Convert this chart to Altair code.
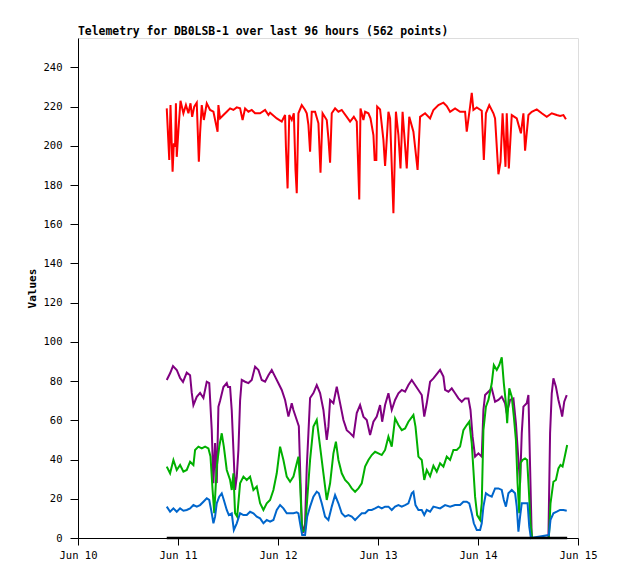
import altair as alt
import pandas as pd

# hours since Jun 10 00:00 and values
red_h = [21.3, 21.9, 22.2, 22.7, 23.0, 23.3, 23.5, 23.7, 24.1, 24.6, 25.3, 25.9, 26.5, 27.0, 27.4, 27.9, 28.5,
         29.0, 29.3, 29.7, 30.2, 30.9, 31.7, 32.5, 33.5, 33.7, 34.1, 34.9, 35.7, 36.5, 37.3, 38.1, 38.9, 39.5,
         40.1, 40.9, 41.7, 42.5, 43.7, 44.9, 45.7, 46.1, 47.7, 48.9, 49.7, 49.9, 50.3, 50.7, 51.3, 51.8, 52.2,
         52.5, 52.9, 53.7, 54.5, 54.9, 55.3, 55.7, 56.1, 56.9, 57.7, 58.2, 58.7, 59.7, 60.1, 60.5, 60.9, 61.7,
         62.5, 63.3, 64.5, 65.3, 66.2, 66.9, 67.5, 67.8, 68.5, 68.9, 69.7, 70.2, 70.9, 71.2, 71.6, 71.8, 72.5,
         73.3, 73.7, 73.9, 74.5, 74.9, 75.7, 75.9, 76.3, 76.9, 77.4, 77.9, 78.9, 79.5, 80.5, 81.5, 82.1, 83.3,
         84.5, 85.3, 86.5, 87.7, 88.5, 89.3, 90.5, 91.7, 92.9, 93.3, 94.1, 94.5, 94.9, 95.7, 96.9, 97.4, 97.9,
         98.7, 99.7, 100.1, 100.9, 101.4, 101.9, 102.6, 102.9, 103.4, 104.1, 105.3, 106.3, 106.9, 107.3, 108.1,
         108.9, 110.1, 111.3, 112.5, 113.7, 114.9, 115.7, 116.5, 117.1]
red_v = [219.1, 192.8, 220.8, 186.8, 201.3, 199.6, 221.7, 194.4, 208, 223, 216.6, 220.8, 216.6, 221.7, 214.8, 220, 222,
         191.9, 206.4, 220.8, 213.2, 221.7, 218.3, 217.4, 207.2, 220.8, 214, 215.7, 217.4, 219.1, 218.3, 219.6, 219.1, 213.2,
         219.1, 217.4, 218.3, 216.6, 216.6, 218.3, 215.7, 216.9, 214, 212.4, 215.7, 199.6, 178.3, 215.7, 213.2, 216.6, 187.7,
         175.8, 216.6, 220.8, 218.3, 216.6, 210.7, 197, 217.4, 217.4, 211.5, 186.3, 216.6, 213.2, 203.8, 191.4, 216.6, 219.1,
         217.4, 218.3, 214.8, 212.4, 214.8, 212.4, 172.7, 219.1, 213.2, 217.4, 216.6, 214, 205.5, 192.8, 192.8, 220, 218.6,
         203, 189.7, 196.2, 217.4, 214, 165.6, 182.6, 217.4, 205.5, 188.5, 217.4, 188.5, 214.8, 207.2, 187.7, 214.8, 216.6,
         214, 218.3, 220.8, 222, 220.3, 217.4, 219.1, 217.4, 217.4, 207.2, 220, 227, 218.3, 219.6, 217.9, 192.8, 216.6,
         220.8, 216.6, 214, 185.5, 191.8, 216.6, 189.3, 216.6, 188.5, 215.7, 214, 206.4, 216.6, 197.5, 215.7,
         217.4, 218.6, 216.6, 214.8, 216.6, 215.7, 215.2, 215.7, 213.5]

purple_h = [21.3, 22.1, 22.8, 23.7, 24.5, 25.2, 26.1, 26.9, 27.3, 27.7, 28.5, 29.3, 30.1, 30.9, 31.5, 32.1, 32.5,
            32.9, 33.3, 33.7, 34.1, 34.9, 35.7, 36.0, 36.5, 36.9, 37.3, 37.7, 38.1, 38.5, 38.9, 39.3, 40.1, 40.9,
            41.7, 42.5, 43.3, 44.1, 44.9, 45.7, 46.5, 47.3, 48.1, 48.9, 49.7, 50.5, 51.3, 51.7, 52.5, 53.0, 53.3,
            53.7, 54.1, 54.5, 54.9, 55.3, 55.7, 56.5, 57.3, 58.1, 58.9, 59.7, 60.1, 60.5, 61.3, 62.1, 62.9, 63.7,
            64.5, 65.3, 66.1, 66.9, 67.7, 68.5, 69.3, 70.1, 70.9, 71.7, 72.5, 73.0, 73.7, 74.5, 75.3, 76.1, 76.9,
            77.7, 78.5, 79.3, 80.1, 80.9, 81.7, 82.5, 83.1, 83.7, 84.5, 85.3, 86.9, 87.7, 88.1, 88.9, 89.7, 90.5,
            91.3, 92.1, 92.9, 93.7, 94.2, 94.7, 95.3, 96.1, 96.9, 97.3, 97.7, 98.5, 99.3, 100.1, 100.9, 101.7,
            102.5, 102.9, 103.7, 104.5, 105.1, 105.7, 106.1, 106.5, 106.9, 107.7, 108.1, 108.5, 108.9, 112.9,
            113.3, 113.7, 114.1, 114.7, 115.3, 115.8, 116.2, 116.7, 117.3]
purple_v = [80.6, 84, 87.7, 85.7, 81.6, 79.6, 84.3, 83, 74, 67.8, 72, 74, 71.4, 79.7, 79, 55, 28,
            48.4, 28, 67, 70, 77, 79, 77, 77, 65, 45, 24.5, 31, 45, 70, 80.6, 79.7, 79,
            80.6, 87.4, 85.7, 80.6, 79.7, 83, 85.7, 82.3, 78.9, 75.5, 70.4, 61.9, 68.7, 65.3, 60.2, 57, 36,
            7.5, 2.5, 7.6, 36, 53.5, 71.4, 73.9, 78, 73.9, 65.3, 50, 56.8, 70.4, 68.7, 77.2, 68.8, 60.2,
            55, 53.5, 51.7, 63.7, 67.8, 61.9, 60.2, 52.5, 59.3, 61.9, 67.8, 59.3, 67.8, 73.8, 65.3, 70.4, 73.8,
            75.5, 74.6, 78, 80.6, 78, 75.5, 72.9, 61.9, 68.7, 79.7, 81.4, 85.7, 82.3, 75.5, 74.6, 76.3, 73.8,
            71.2, 69.5, 71.2, 71.2, 65.3, 51.7, 41.5, 43.2, 41.5, 65.3, 72.9, 74.6, 76.3, 69.5, 70.4, 72.1,
            68.7, 63.6, 70.4, 71.2, 58.5, 39.8, 27.9, 53.4, 67, 68.7, 72.9, 36.4, 0, 0,
            53.5, 73.8, 81.4, 77.2, 70.4, 66.1, 61.9, 69.5, 72.9]

green_h = [21.3, 22.1, 22.9, 23.7, 24.5, 25.3, 26.1, 26.9, 27.7, 28.1, 28.9, 29.7, 30.5, 31.3, 31.8, 32.3, 32.7,
           33.3, 33.9, 34.5, 35.0, 35.7, 36.5, 36.9, 37.3, 37.7, 38.2, 38.9, 39.7, 40.5, 41.3, 42.1, 42.9, 43.7,
           44.5, 45.3, 46.1, 46.9, 47.7, 48.5, 49.3, 50.1, 50.9, 51.7, 52.5, 52.9, 53.3, 53.8, 54.5, 55.0, 55.7,
           56.5, 57.3, 58.1, 58.9, 59.7, 60.5, 61.3, 61.9, 62.5, 63.3, 64.1, 64.9, 65.7, 66.5, 67.3, 68.1, 68.9,
           69.7, 70.5, 71.3, 72.1, 72.9, 73.7, 74.5, 75.3, 76.1, 76.9, 77.7, 78.5, 79.3, 80.5, 81.0, 81.7, 82.5,
           83.1, 83.7, 84.5, 85.3, 86.1, 86.9, 87.7, 88.5, 89.3, 90.1, 90.9, 91.7, 92.5, 93.3, 93.9, 94.5, 94.9,
           95.3, 95.8, 96.5, 96.9, 97.3, 97.9, 98.5, 99.3, 99.8, 100.5, 101.1, 101.7, 102.2, 102.7, 103.0, 103.5,
           104.1, 104.6, 105.1, 105.5, 105.9, 106.2, 106.7, 107.3, 107.8, 108.2, 108.6, 109.0, 113.0, 113.4,
           114.1, 114.7, 115.3, 115.8, 116.3, 116.9, 117.4]
green_v = [36.4, 33, 39.8, 34.7, 37.2, 33.8, 34.7, 38.9, 37.2, 44.9, 46.6, 45.7, 46.6, 45.7, 41.5, 24.5, 12.6,
           36.4, 46.6, 53.4, 46.6, 34.7, 29.6, 24.5, 33, 12.6, 10.9, 27.9, 31.3, 29.6, 31.3, 24.5, 26.2, 17.7,
           14.3, 17.7, 19.4, 24.5, 33, 46.6, 39.8, 31.3, 28.7, 31.3, 38.1, 41.5, 27.9, 3.2, 4.1, 19.4, 39.8,
           56.8, 60.2, 46.6, 33, 19.4, 27.9, 43.2, 49.1, 39.8, 33, 29.6, 27.9, 25.3, 23.6, 25.3, 27.9, 36.4,
           39.8, 42.3, 44, 43.2, 42.3, 44.9, 51.7, 46.6, 61, 57.6, 55, 55.9, 59.3, 62.7, 56.8, 41.5, 39.8,
           29.6, 34.7, 31.5, 36.8, 33.8, 38.1, 36.4, 41.5, 39.8, 44.9, 44.9, 46.6, 55, 57.6, 59.3, 48.3, 34.7,
           21.1, 11.7, 9.2, 17.7, 55, 67, 70.4, 78.9, 88.2, 85.7, 88.2, 92.1, 78.9, 68.7, 58.5, 76.3,
           72.1, 61.9, 50, 27.9, 12.6, 38.1, 39.8, 40.6, 39.8, 24.5, 7.5, 0, 0, 17.7,
           28.7, 29.6, 35.5, 37.2, 36.4, 42.3, 47.4]

blue_h = [21.3, 22.1, 22.9, 23.7, 24.5, 25.3, 26.1, 26.9, 27.7, 28.5, 29.3, 30.1, 30.9, 31.5, 32.1, 32.5, 32.9,
          33.3, 33.9, 34.5, 35.0, 35.7, 36.2, 36.9, 37.4, 38.1, 38.9, 39.7, 40.5, 41.3, 42.1, 42.9, 43.7, 44.5,
          45.3, 46.1, 46.9, 47.7, 48.5, 49.3, 50.1, 50.9, 51.7, 52.5, 52.9, 53.3, 53.8, 54.5, 55.0, 55.7, 56.5,
          57.3, 57.8, 58.5, 59.3, 60.1, 60.9, 61.7, 62.5, 63.3, 64.1, 64.9, 65.7, 66.5, 67.3, 68.1, 68.9, 69.7,
          70.5, 71.3, 72.1, 72.9, 73.7, 74.5, 75.3, 76.1, 76.9, 77.7, 78.5, 79.3, 80.1, 80.5, 81.0, 81.7, 82.5,
          83.1, 83.7, 84.5, 85.3, 86.9, 88.1, 89.3, 90.5, 91.7, 92.5, 93.3, 93.9, 94.5, 95.0, 95.7, 96.5, 96.9,
          97.3, 97.9, 98.5, 99.3, 100.1, 100.9, 101.7, 102.2, 102.7, 103.3, 104.1, 104.9, 105.3, 105.7, 106.1,
          106.5, 107.3, 107.9, 108.3, 108.7, 113.0, 113.4, 114.1, 114.9, 115.7, 116.5, 117.3]
blue_v = [16, 13.4, 15.1, 13.4, 15.1, 13.9, 14.3, 15.1, 16.8, 16, 16.8, 18.5, 20.2, 19.4, 12.6, 7.5, 10.9,
          17.7, 21.1, 22.8, 19.4, 14.3, 11.7, 12.6, 4.1, 7.5, 12.6, 11.7, 11.7, 13.4, 12.6, 10.9, 10, 7.5,
          9.2, 8.3, 9.2, 14.3, 16.8, 15.1, 12.6, 12.6, 12.6, 13.1, 12.6, 7.5, 1.5, 1.5, 10.9, 16, 21.1,
          23.6, 22.8, 17.7, 10.9, 9.2, 16, 21.9, 17.7, 12.6, 10.9, 11.7, 10.9, 9.2, 10.9, 12.6, 12.6, 14.3,
          14.3, 15.1, 16, 15.1, 16, 16, 14.3, 16, 16.8, 16, 16.8, 17.7, 22.8, 23.6, 16.8, 14.3, 14.3,
          11.7, 14.3, 13.4, 16, 15.1, 16.8, 16, 16.8, 16.8, 18.5, 18.5, 17.7, 12.6, 7.5, 4.1, 4.1, 7.5,
          16, 22.8, 21.9, 21.1, 25.3, 25.3, 24.5, 19.4, 16, 22.8, 24.5, 22.8, 16, 3.2, 10.9,
          17.7, 17.7, 17.7, 5.8, 0, 1.5, 9.2, 12.6, 13.4, 14.3, 14.3, 13.9]

black_h = [21.3, 117.4]
black_v = [0, 0]

series = [
    ("red", red_h, red_v, "#ff0000", 2),
    ("purple", purple_h, purple_v, "#800080", 2),
    ("green", green_h, green_v, "#00b000", 2),
    ("blue", blue_h, blue_v, "#0066cc", 2),
    ("black", black_h, black_v, "#000000", 2.5),
]

base = pd.Timestamp("2024-06-10T00:00:00")
day_ticks = [alt.DateTime(year=2024, month=6, date=d) for d in range(10, 16)]
y_ticks = list(range(0, 241, 20))

MONO = "DejaVu Sans Mono"

x_enc = alt.X(
    "t:T",
    scale=alt.Scale(domain=[alt.DateTime(year=2024, month=6, date=10),
                            alt.DateTime(year=2024, month=6, date=15)]),
    axis=alt.Axis(values=day_ticks, format="%b %d", title=None, grid=False,
                  labelFont=MONO, labelFontSize=10.5, labelColor="#000000",
                  tickSize=7, tickColor="#000000", domainColor="#000000",
                  labelPadding=5, labelFlush=False),
)
y_enc = alt.Y(
    "v:Q",
    scale=alt.Scale(domain=[0, 255], nice=False),
    axis=alt.Axis(values=y_ticks, title="Values", grid=False,
                  labelFont=MONO, labelFontSize=10.5, labelColor="#000000",
                  tickSize=8, tickColor="#000000", domainColor="#000000",
                  labelPadding=8, titleFont=MONO, titleFontSize=11,
                  titleFontWeight="bold", titleColor="#000000", titlePadding=6),
)

layers = []
for name, hs, vs, color, sw in series:
    df = pd.DataFrame({"t": [base + pd.Timedelta(hours=h) for h in hs], "v": vs})
    layers.append(
        alt.Chart(df).mark_line(color=color, strokeWidth=sw, interpolate="linear")
        .encode(x=x_enc, y=y_enc)
    )

chart = alt.layer(*layers).properties(
    width=500,
    height=500,
    title=alt.TitleParams(
        "Telemetry for DB0LSB-1 over last 96 hours (562 points)",
        anchor="start", font=MONO, fontSize=11.4, fontWeight="bold",
        color="#000000", offset=1, frame="group",
    ),
    autosize=alt.AutoSizeParams(type="none"),
    padding={"left": 70, "top": 30, "right": 32, "bottom": 33},
).configure_view(stroke="#555555", strokeWidth=1).configure(background="#ffffff")

chart.save("out.html", embed_options={"renderer": "svg", "actions": False})
